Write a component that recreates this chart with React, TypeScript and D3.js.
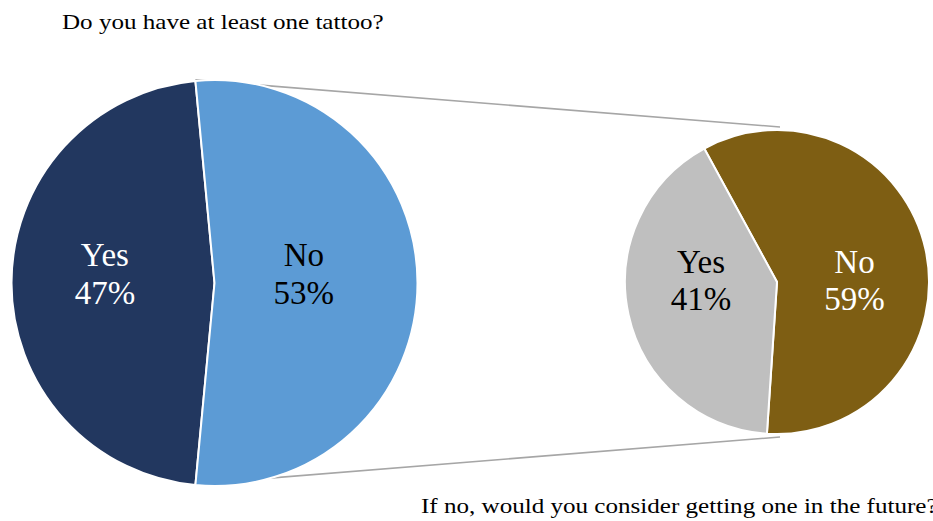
import React from "react";
import * as d3 from "d3";

const mainCategories = ["Yes", "No"];
const mainValues = [47, 53];
const subCategories = ["No", "Yes"];
const subValues = [59, 41];
const titleText = "Do you have at least one tattoo?";
const subTitleText = "If no, would you consider getting one in the future?";

const W = 933;
const H = 521;
const FONT = "'Liberation Serif', 'Times New Roman', serif";

export default function App() {
  const deg = Math.PI / 180;

  // main pie
  const mcx = 214.5, mcy = 283, mr = 203;
  const total = d3.sum(mainValues);
  const noShare = mainValues[1] / total;
  const mainStart = Math.PI / 2 - noShare * Math.PI; // No slice centered to the right
  const mainPie = d3.pie<number>().sort(null).value((d) => d)
    .startAngle(mainStart + 2 * Math.PI * noShare - 2 * Math.PI)
    .endAngle(mainStart + 2 * Math.PI * noShare);
  const mainArcs = mainPie(mainValues);
  const mainArc = d3.arc<d3.PieArcDatum<number>>().innerRadius(0).outerRadius(mr);
  const mainColors = ["#22375F", "#5C9BD5"];
  const mainText = ["#FFFFFF", "#000000"];

  // sub pie
  const scx = 777, scy = 282, sr = 152;
  const subStart = -28.6 * deg;
  const subPie = d3.pie<number>().sort(null).value((d) => d)
    .startAngle(subStart).endAngle(subStart + 2 * Math.PI);
  const subArcs = subPie(subValues);
  const subArc = d3.arc<d3.PieArcDatum<number>>().innerRadius(0).outerRadius(sr);
  const subColors = ["#7E5E13", "#BFBFBF"];
  const subText = ["#FFFFFF", "#000000"];

  // connector points
  const noArc = mainArcs[1];
  const pt = (cx: number, cy: number, r: number, a: number) => [cx + r * Math.sin(a), cy - r * Math.cos(a)];
  const [tx1, ty1] = pt(mcx, mcy, mr, noArc.startAngle);
  const [bx1, by1] = pt(mcx, mcy, mr, noArc.endAngle);
  const [tx2, ty2] = pt(scx, scy, sr, 0);
  const [bx2, by2] = pt(scx, scy, sr, Math.PI);

  const mainLabelX = [mcx - 0.54 * mr, mcx + 0.44 * mr];
  const subLabelX = [scx + 0.51 * sr, scx - 0.5 * sr];

  return (
    <svg width={W} height={H} style={{ position: "absolute", left: 0, top: 0, background: "#fff" }}>
      <text transform="translate(62,29) scale(1.14,1)" fontFamily={FONT} fontSize={22} fill="#000">{titleText}</text>
      <line x1={tx1} y1={ty1 - 1} x2={tx2 + 3} y2={ty2 - 3} stroke="#A6A6A6" strokeWidth={1.6} />
      <line x1={bx1} y1={by1 - 1} x2={bx2 + 3} y2={by2 + 3} stroke="#A6A6A6" strokeWidth={1.6} />
      <g transform={`translate(${mcx},${mcy})`}>
        {mainArcs.map((a, i) => (
          <path key={i} d={mainArc(a) || ""} fill={mainColors[i]} stroke="#fff" strokeWidth={2} strokeLinejoin="round" />
        ))}
      </g>
      <g transform={`translate(${scx},${scy})`}>
        {subArcs.map((a, i) => (
          <path key={i} d={subArc(a) || ""} fill={subColors[i]} stroke="#fff" strokeWidth={2} strokeLinejoin="round" />
        ))}
      </g>
      {mainArcs.map((a, i) => (
        <text key={i} x={mainLabelX[i]} textAnchor="middle" fontFamily={FONT} fontSize={33} fill={mainText[i]}>
          <tspan x={mainLabelX[i]} y={mcy - 17}>{mainCategories[i]}</tspan>
          <tspan x={mainLabelX[i]} y={mcy + 21}>{`${mainValues[i]}%`}</tspan>
        </text>
      ))}
      {subArcs.map((a, i) => (
        <text key={i} x={subLabelX[i]} textAnchor="middle" fontFamily={FONT} fontSize={33} fill={subText[i]}>
          <tspan x={subLabelX[i]} y={scy - 9}>{subCategories[i]}</tspan>
          <tspan x={subLabelX[i]} y={scy + 28}>{`${subValues[i]}%`}</tspan>
        </text>
      ))}
      <text transform="translate(421,513) scale(1.14,1)" fontFamily={FONT} fontSize={22} fill="#000">{subTitleText}</text>
    </svg>
  );
}
